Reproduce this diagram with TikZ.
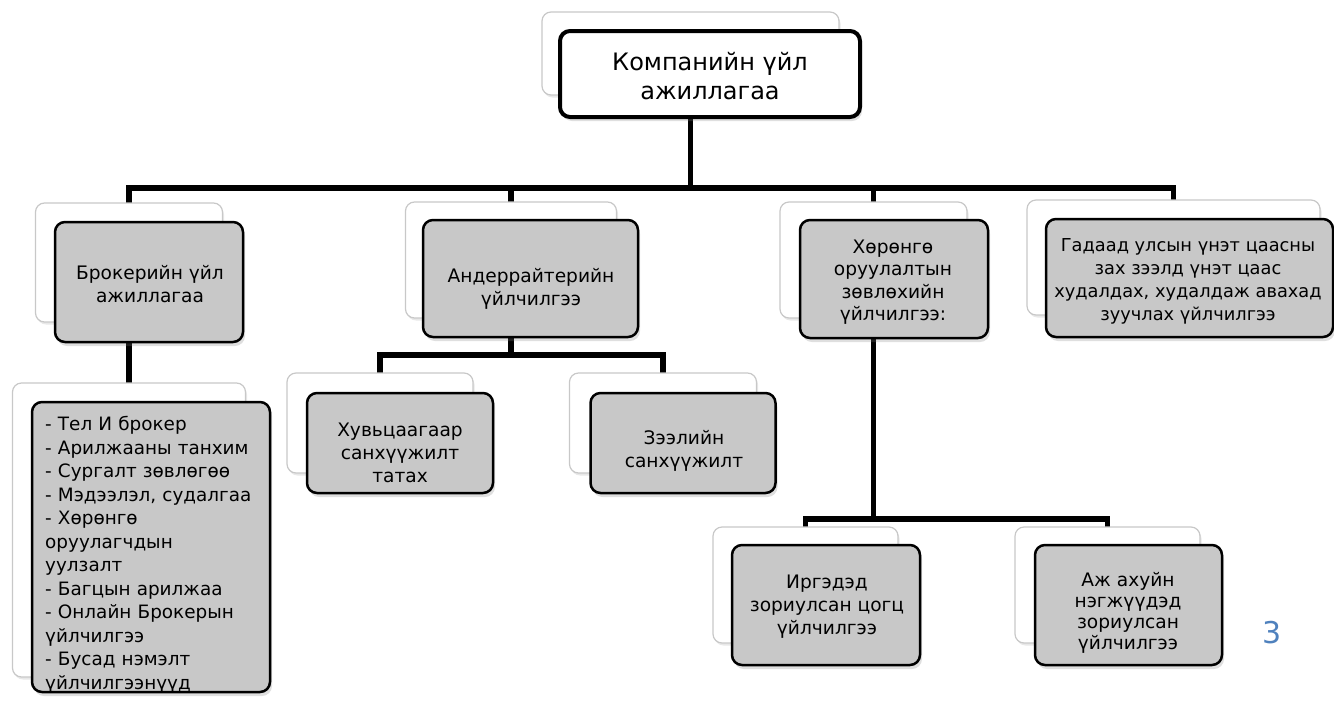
\documentclass[tikz,border=0pt]{standalone}
\usepackage{fontspec}
\setmainfont{DejaVu Sans}
\usetikzlibrary{shadows}
\pgfdeclarelayer{background}
\pgfsetlayers{background,main}
\definecolor{frontgray}{RGB}{200,200,200}
\definecolor{backline}{RGB}{200,200,200}
\definecolor{pagenum}{RGB}{79,129,189}
\tikzset{
  backbox/.style={draw=backline, line width=1.2pt, fill=white, rounded corners=9pt, inner sep=0pt,
    drop shadow={shadow xshift=1.5pt, shadow yshift=-2.5pt, opacity=0.18}},
  frontbox/.style={draw=black, line width=2.5pt, fill=frontgray, rounded corners=10pt, inner sep=0pt,
    drop shadow={shadow xshift=2pt, shadow yshift=-4pt, opacity=0.25}},
  topfront/.style={frontbox, fill=white, line width=4pt},
  conn/.style={line width=5.5pt, line join=miter, black},
  txt/.style={align=center, inner sep=0pt, font=\fontsize{18.6}{23}\selectfont},
  toptxt/.style={align=center, inner sep=0pt, font=\fontsize{24}{29}\selectfont},
  listtxt/.style={align=left, inner sep=0pt, text width=228pt, font=\fontsize{18.4}{23.5}\selectfont},
}
\begin{document}
\begin{tikzpicture}[x=1pt,y=-1pt]
\useasboundingbox (0,0) rectangle (1334,702);

% top
\node[backbox, minimum width=297pt, minimum height=83pt] (topb) at (690.5,53.5) {};
\node[topfront, minimum width=300pt, minimum height=86pt] (topf) at (710,74) {};
\node[toptxt] (topt) at (710,76) {Компанийн үйл\\ажиллагаа};

% broker
\node[backbox, minimum width=187pt, minimum height=119pt] (brokb) at (129,262.5) {};
\node[frontbox, minimum width=188pt, minimum height=120pt] (brokf) at (149,282) {};
\node[txt] (brokt) at (150,284) {Брокерийн үйл\\ажиллагаа};

% list
\node[backbox, minimum width=233pt, minimum height=294pt] (listb) at (129,530) {};
\node[frontbox, minimum width=238pt, minimum height=290pt] (listf) at (151,547) {};
\node[listtxt, anchor=west] (listt) at (45,555) {- Тел И брокер\\- Арилжааны танхим\\- Сургалт зөвлөгөө\\- Мэдээлэл, судалгаа\\- Хөрөнгө\\оруулагчдын\\уулзалт\\- Багцын арилжаа\\- Онлайн Брокерын\\үйлчилгээ\\- Бусад нэмэлт\\үйлчилгээнүүд};

% underwriter
\node[backbox, minimum width=211pt, minimum height=116pt] (undb) at (511,260) {};
\node[frontbox, minimum width=215pt, minimum height=117pt] (undf) at (530.5,278.5) {};
\node[txt] (undt) at (531,289) {Андеррайтерийн\\үйлчилгээ};

% shares
\node[backbox, minimum width=186pt, minimum height=100pt] (hubb) at (380,423) {};
\node[frontbox, minimum width=186pt, minimum height=100pt] (hubf) at (400,443) {};
\node[txt] (hubt) at (400,453) {Хувьцаагаар\\санхүүжилт\\татах};

% loans
\node[backbox, minimum width=187pt, minimum height=100pt] (zeeb) at (663,423) {};
\node[frontbox, minimum width=185pt, minimum height=100pt] (zeef) at (683,443) {};
\node[txt] (zeet) at (684,451) {Зээлийн\\санхүүжилт};

% investment advice
\node[backbox, minimum width=187pt, minimum height=116pt] (invb) at (873.5,260) {};
\node[frontbox, minimum width=188pt, minimum height=118pt] (invf) at (894,279) {};
\node[txt, font=\fontsize{18.6}{22.5}\selectfont] (invt) at (893,282) {Хөрөнгө\\оруулалтын\\зөвлөхийн\\үйлчилгээ:};

% foreign
\node[backbox, minimum width=293pt, minimum height=115pt] (forb) at (1173.5,257.5) {};
\node[frontbox, minimum width=287pt, minimum height=118pt] (forf) at (1189.5,278) {};
\node[txt, font=\fontsize{17.8}{23}\selectfont] (fort) at (1188,281) {Гадаад улсын үнэт цаасны\\зах зээлд үнэт цаас\\худалдах, худалдаж авахад\\зуучлах үйлчилгээ};

% citizens
\node[backbox, minimum width=185pt, minimum height=116pt] (irgb) at (805.5,585) {};
\node[frontbox, minimum width=188pt, minimum height=120pt] (irgf) at (826,605) {};
\node[txt] (irgt) at (827,607) {Иргэдэд\\зориулсан цогц\\үйлчилгээ};

% entities
\node[backbox, minimum width=185pt, minimum height=116pt] (ajb) at (1107.5,585) {};
\node[frontbox, minimum width=187pt, minimum height=120pt] (ajf) at (1128.5,605) {};
\node[txt, font=\fontsize{18.6}{21}\selectfont] (ajt) at (1128,613) {Аж ахуйн\\нэгжүүдэд\\зориулсан\\үйлчилгээ};

% page number
\node[text=pagenum, inner sep=0pt, font=\fontsize{30}{36}\selectfont] (pg) at (1272,633) {3};

% connectors
\coordinate (bus) at (0,188);
\coordinate (ubar) at (0,355);
\coordinate (ibar) at (0,519);
\begin{pgfonlayer}{background}
\draw[conn] (topb.center) -- (topb.center |- bus);
\draw[conn] (brokb.center) |- (bus -| topb.center);
\draw[conn] (undb.center) |- (bus -| topb.center);
\draw[conn] (invb.center) |- (bus -| topb.center);
\draw[conn] (forb.center) |- (bus -| topb.center);
\draw[conn] (brokb.center) -- (listb.center);
\draw[conn] (undb.center) -- (undb.center |- ubar);
\draw[conn] (hubb.center) |- (ubar -| undb.center);
\draw[conn] (zeeb.center) |- (ubar -| undb.center);
\draw[conn] (invb.center) -- (invb.center |- ibar);
\draw[conn] (irgb.center) |- (ibar -| invb.center);
\draw[conn] (ajb.center) |- (ibar -| invb.center);
\end{pgfonlayer}
\end{tikzpicture}
\end{document}
